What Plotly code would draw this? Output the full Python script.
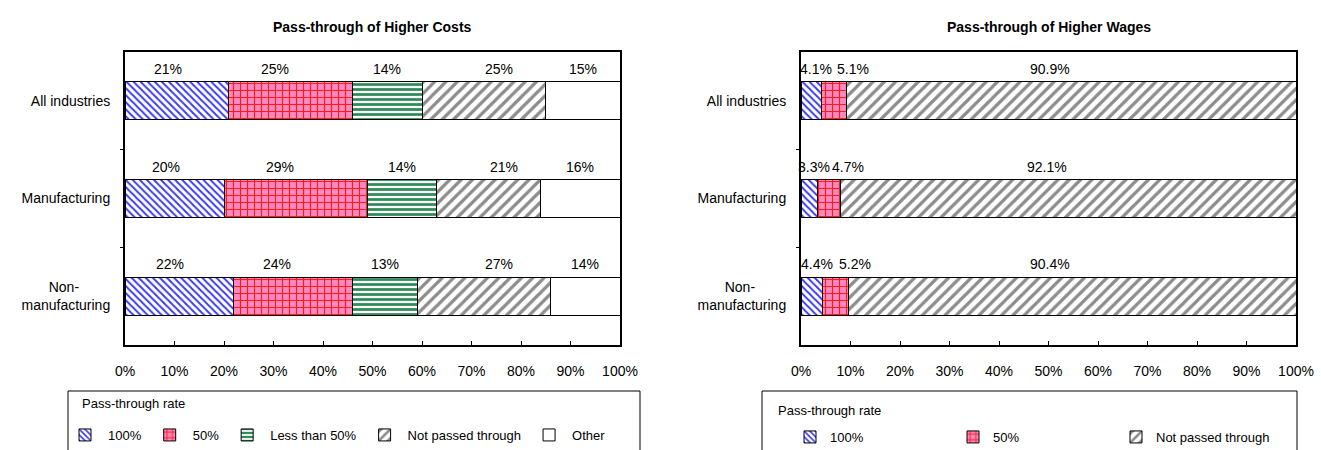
import plotly.graph_objects as go

# Industry groups (top to bottom)
categories = ["All industries", "Manufacturing", "Non-manufacturing"]
category_labels = ["All industries", "Manufacturing", "Non-\u00a0\u00a0\u00a0\u00a0\u00a0\u00a0\u00a0\u00a0<br>manufacturing"]

# Pass-through of higher costs (% of firms)
cost_series = ["100%", "50%", "Less than 50%", "Not passed through", "Other"]
cost_100 = [21, 20, 22]
cost_50 = [25, 29, 24]
cost_lt50 = [14, 14, 13]
cost_none = [25, 21, 27]
cost_other = [15, 16, 14]

# Pass-through of higher wages (% of firms)
wage_series = ["100%", "50%", "Not passed through"]
wage_100 = [4.1, 3.3, 4.4]
wage_50 = [5.1, 4.7, 5.2]
wage_none = [90.9, 92.1, 90.4]

x_ticks = list(range(0, 101, 10))

FONT = "Liberation Sans, Arial, sans-serif"

# fill patterns per pass-through rate
styles = {
    "100%": dict(shape="\\", fgcolor="#3a3af0", bgcolor="white", size=5, solidity=0.4),
    "50%": dict(shape="+", fgcolor="#ff1a1a", bgcolor="#ff88bf", size=7, solidity=0.3),
    "Less than 50%": dict(shape="-", fgcolor="#2e8b57", bgcolor="white", size=5, solidity=0.55),
    "Not passed through": dict(shape="/", fgcolor="#8c8c8c", bgcolor="white", size=8, solidity=0.4),
    "Other": None,
}

# horizontal nudges (px) for the value labels of each panel
cost_label_shift = {"100%": -9, "50%": -16, "Less than 50%": 0, "Not passed through": 15, "Other": 0}
wage_label_shift = {"100%": 5, "50%": 19, "Not passed through": -22}

fig = go.Figure()
value_labels = []


def add_panel(series_names, series_values, xa, ya, legend_name, decimals, shifts):
    cum = [0.0] * len(categories)
    for name, vals in zip(series_names, series_values):
        pat = styles[name]
        marker = dict(color="white", line=dict(color="black", width=1))
        if pat is not None:
            marker["pattern"] = dict(fillmode="replace", **pat)
        fig.add_trace(go.Bar(
            name=name, x=vals, y=categories, orientation="h",
            xaxis=xa, yaxis=ya, marker=marker, legend=legend_name,
            hoverinfo="skip",
        ))
        for i, v in enumerate(vals):
            value_labels.append(dict(
                x=cum[i] + v / 2, y=categories[i],
                xref=xa, yref=ya, yshift=32, xshift=shifts[name], showarrow=False,
                text=f"{v:.{decimals}f}%",
                font=dict(family=FONT, size=14, color="black"),
            ))
            cum[i] += v


add_panel(cost_series, [cost_100, cost_50, cost_lt50, cost_none, cost_other],
          "x", "y", "legend", 0, cost_label_shift)
add_panel(wage_series, [wage_100, wage_50, wage_none],
          "x2", "y2", "legend2", 1, wage_label_shift)

# empty traces so the separator-tick axes get drawn
for xa, ya in (("x", "y3"), ("x2", "y4")):
    fig.add_trace(go.Scatter(x=[], y=[], xaxis=xa, yaxis=ya, showlegend=False,
                             hoverinfo="skip", mode="markers"))

W, H = 1321, 450
left_dom = [125 / W, 620 / W]
right_dom = [801 / W, 1296 / W]
y_dom = [1 - 345 / H, 1 - 52 / H]

xaxis_common = dict(
    range=[0, 100], tickvals=x_ticks, ticktext=[f"{t}%" for t in x_ticks],
    ticks="inside", ticklen=4, tickcolor="black", showgrid=False, zeroline=False,
    showline=True, linecolor="black", linewidth=2, mirror=True,
    tickfont=dict(family=FONT, size=14, color="black"), ticklabelstandoff=12,
    fixedrange=True, automargin=False,
)
yaxis_common = dict(
    categoryorder="array", categoryarray=categories, autorange="reversed",
    tickvals=categories, ticktext=category_labels, ticks="",
    showgrid=False, zeroline=False,
    showline=True, linecolor="black", linewidth=2, mirror=True,
    tickfont=dict(family=FONT, size=14, color="black"), ticklabelstandoff=10,
    fixedrange=True, automargin=False,
)
# separator ticks between the industry groups (no labels)
sep_ticks = [0.5, 1.5]
sep_axis = dict(
    range=[len(categories) - 0.5, -0.5], tickvals=sep_ticks, showticklabels=False,
    ticks="outside", ticklen=4, tickcolor="black", tickwidth=1,
    showgrid=False, zeroline=False, showline=False, fixedrange=True, automargin=False,
)

legend_common = dict(
    orientation="h", xanchor="left", yanchor="middle",
    font=dict(family=FONT, size=13, color="black"),
    bgcolor="rgba(0,0,0,0)", borderwidth=0, traceorder="normal",
)

panel_titles = [
    dict(text="<b>Pass-through of Higher Costs</b>", x=(left_dom[0] + left_dom[1]) / 2),
    dict(text="<b>Pass-through of Higher Wages</b>", x=(right_dom[0] + right_dom[1]) / 2),
]
title_annotations = [
    dict(text=t["text"], x=t["x"], y=1 - 27 / H, xref="paper", yref="paper",
         xanchor="center", yanchor="middle", showarrow=False,
         font=dict(family=FONT, size=14, color="black"))
    for t in panel_titles
]
legend_headers = [
    dict(text="Pass-through rate", x=80 / W, y=1 - 403 / H, xref="paper", yref="paper",
         xanchor="left", yanchor="middle", showarrow=False,
         font=dict(family=FONT, size=13, color="black")),
    dict(text="Pass-through rate", x=776 / W, y=1 - 410 / H, xref="paper", yref="paper",
         xanchor="left", yanchor="middle", showarrow=False,
         font=dict(family=FONT, size=13, color="black")),
]

fig.update_layout(
    width=W, height=H,
    margin=dict(l=0, r=0, t=0, b=0, autoexpand=False),
    paper_bgcolor="white", plot_bgcolor="white",
    barmode="stack", bargap=0.61,
    font=dict(family=FONT, color="black"),
    xaxis=dict(domain=left_dom, anchor="y", **xaxis_common),
    yaxis=dict(domain=y_dom, anchor="x", **yaxis_common),
    xaxis2=dict(domain=right_dom, anchor="y2", **xaxis_common),
    yaxis2=dict(domain=y_dom, anchor="x2", **yaxis_common),
    yaxis3=dict(overlaying="y", anchor="x", side="left", **sep_axis),
    yaxis4=dict(overlaying="y2", anchor="x2", side="left", **sep_axis),
    legend=dict(x=62 / W, y=1 - 435 / H, itemwidth=36, **legend_common),
    legend2=dict(x=790 / W, y=1 - 437 / H, entrywidth=118, itemwidth=30, **legend_common),
    shapes=[
        dict(type="rect", xref="paper", yref="paper",
             x0=68 / W, x1=640 / W, y0=1 - 391 / H, y1=-0.1,
             line=dict(color="black", width=1), fillcolor="rgba(0,0,0,0)", layer="below"),
        dict(type="rect", xref="paper", yref="paper",
             x0=762 / W, x1=1297 / W, y0=1 - 391 / H, y1=-0.1,
             line=dict(color="black", width=1), fillcolor="rgba(0,0,0,0)", layer="below"),
    ],
    annotations=value_labels + title_annotations + legend_headers,
)

fig.write_html("out.html")
